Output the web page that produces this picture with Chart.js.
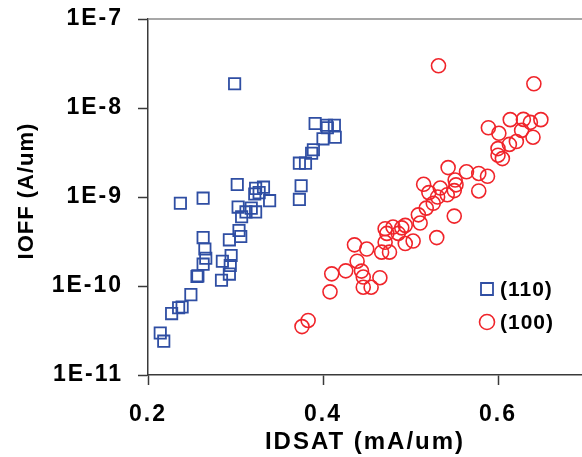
<!DOCTYPE html>
<html><head><meta charset="utf-8">
<script src="https://cdn.jsdelivr.net/npm/chart.js@4/dist/chart.umd.min.js"></script>
<style>
html,body{margin:0;padding:0;background:#fff;overflow:hidden;}
canvas{display:block;}
</style></head><body>
<canvas id="c" width="582" height="457"></canvas>
<script>
const seriesNames = ['(110)', '(100)'];

const idsat110 = [0.299,0.391,0.404,0.413,0.405,0.414,0.400,0.389,0.387,0.373,0.380,0.375,0.373,0.302,0.323,0.332,0.327,0.322,0.339,0.263,0.237,0.303,0.312,0.323,0.307,0.304,0.263,0.293,0.306,0.265,0.266,0.295,0.285,0.294,0.293,0.284,0.263,0.256,0.257,0.249,0.239,0.235,0.227,0.214,0.218,0.318];
const ioff110  = [1.87e-8,6.7e-9,6.4e-9,6.4e-9,6.0e-9,4.7e-9,4.5e-9,3.4e-9,3.1e-9,2.4e-9,2.4e-9,1.34e-9,9.4e-10,1.38e-9,1.25e-9,1.29e-9,1.12e-9,1.08e-9,9.1e-10,9.7e-10,8.5e-10,7.7e-10,6.8e-10,6.8e-10,6.0e-10,4.2e-10,3.5e-10,3.3e-10,3.6e-10,2.6e-10,2.05e-10,2.2e-10,1.9e-10,1.7e-10,1.36e-10,1.16e-10,1.76e-10,1.28e-10,1.30e-10,8.0e-11,5.8e-11,5.7e-11,4.9e-11,2.96e-11,2.4e-11,7.5e-10];

const idsat100 = [0.532,0.641,0.589,0.601,0.614,0.629,0.637,0.649,0.627,0.640,0.621,0.613,0.600,0.605,0.600,0.543,0.564,0.578,0.588,0.578,0.515,0.521,0.534,0.551,0.552,0.550,0.542,0.531,0.526,0.518,0.509,0.511,0.494,0.490,0.486,0.480,0.471,0.473,0.550,0.530,0.503,0.494,0.471,0.436,0.450,0.467,0.476,0.439,0.426,0.410,0.444,0.446,0.465,0.446,0.455,0.408,0.383,0.376];
const ioff100  = [2.98e-8,1.87e-8,6.0e-9,5.2e-9,7.4e-9,7.45e-9,6.9e-9,7.4e-9,5.6e-9,4.7e-9,4.2e-9,3.9e-9,3.5e-9,2.7e-9,2.95e-9,2.14e-9,1.92e-9,1.84e-9,1.71e-9,1.17e-9,1.39e-9,1.12e-9,1.26e-9,1.55e-9,1.37e-9,1.18e-9,1.06e-9,1.0e-9,8.5e-10,7.5e-10,6.3e-10,5.1e-10,4.8e-10,4.5e-10,3.9e-10,4.6e-10,4.4e-10,3.9e-10,6.1e-10,3.5e-10,3.2e-10,3.0e-10,3.1e-10,2.9e-10,2.6e-10,2.4e-10,2.4e-10,1.9e-10,1.48e-10,1.37e-10,1.47e-10,1.26e-10,1.24e-10,9.7e-11,9.7e-11,8.6e-11,4.1e-11,3.5e-11];

const xTickValues = [0.2, 0.4, 0.6];
const xTickLabels = ['0.2', '0.4', '0.6'];
const yTickValues = [1e-11, 1e-10, 1e-9, 1e-8, 1e-7];
const yTickLabels = ['1E-11', '1E-10', '1E-9', '1E-8', '1E-7'];
const xTitle = 'IDSAT (mA/um)';
const yTitle = 'IOFF (A/um)';

const FONT = "'Liberation Sans', Arial, sans-serif";
const BLUE = '#2f4ea3';
const RED = '#f0242a';
const AXIS = '#3a3a3a';

const toPoints = (xs, ys) => xs.map((x, i) => ({x: x, y: ys[i]}));

const spacingPlugin = {
  id: 'spacing',
  beforeUpdate(chart) { chart.ctx.letterSpacing = '2px'; },
  beforeDraw(chart) { chart.ctx.letterSpacing = '2px'; }
};

const framePlugin = {
  id: 'frame',
  beforeDatasetsDraw(chart) {
    const {ctx, chartArea} = chart;
    ctx.save();
    ctx.strokeStyle = '#8a8a8a';
    ctx.lineWidth = 1.5;
    ctx.beginPath();
    ctx.moveTo(chartArea.left, chartArea.top);
    ctx.lineTo(chartArea.right, chartArea.top);
    ctx.stroke();
    // y axis title
    ctx.fillStyle = '#000';
    ctx.letterSpacing = '1px';
    ctx.font = 'bold 22px ' + FONT;
    ctx.textAlign = 'center';
    ctx.textBaseline = 'middle';
    ctx.translate(27, chartArea.top + 172);
    ctx.rotate(-Math.PI / 2);
    ctx.fillText(yTitle, 0, 0);
    ctx.restore();
  }
};

const legendPlugin = {
  id: 'cornerLegend',
  afterDatasetsDraw(chart) {
    const {ctx, chartArea} = chart;
    ctx.save();
    ctx.letterSpacing = '1px';
    chart.data.datasets.forEach((ds, i) => {
      const cx = chartArea.right - 95;
      const cy = chartArea.top + 270 + i * 33;
      ctx.strokeStyle = ds.borderColor;
      ctx.lineWidth = ds.borderWidth;
      ctx.beginPath();
      if (ds.pointStyle === 'rect') {
        const h = 6;
        ctx.rect(cx - h, cy - h, 2 * h, 2 * h);
      } else {
        ctx.arc(cx, cy, 7.5, 0, Math.PI * 2);
      }
      ctx.stroke();
      ctx.fillStyle = '#000';
      ctx.font = 'bold 21px ' + FONT;
      ctx.textAlign = 'left';
      ctx.textBaseline = 'middle';
      ctx.fillText(ds.label, cx + 13, cy + 1);
    });
    ctx.restore();
  }
};

new Chart(document.getElementById('c'), {
  type: 'scatter',
  data: {
    datasets: [
      {label: seriesNames[0], data: toPoints(idsat110, ioff110), pointStyle: 'rect', pointRadius: 8, pointHoverRadius: 8,
       borderColor: BLUE, backgroundColor: 'rgba(0,0,0,0)', borderWidth: 1.8, showLine: false},
      {label: seriesNames[1], data: toPoints(idsat100, ioff100), pointStyle: 'circle', pointRadius: 7, pointHoverRadius: 7,
       borderColor: RED, backgroundColor: 'rgba(0,0,0,0)', borderWidth: 1.6, showLine: false}
    ]
  },
  options: {
    responsive: false,
    animation: false,
    devicePixelRatio: 1,
    layout: {autoPadding: false, padding: {top: 19, right: 0, left: 0, bottom: 0}},
    plugins: {legend: {display: false}, tooltip: {enabled: false}},
    scales: {
      x: {
        type: 'linear', min: 0.2, max: 0.696,
        afterBuildTicks: s => { s.ticks = xTickValues.map(v => ({value: v})); },
        afterFit: s => { s.height = 82; s.paddingLeft = 0; s.paddingRight = 0; },
        ticks: {callback: (v, i) => xTickLabels[i], color: '#000', padding: 16,
                font: {family: FONT, size: 23, weight: 'bold'}, maxRotation: 0},
        grid: {drawOnChartArea: false, tickLength: 10, color: AXIS, tickWidth: 1.5},
        border: {color: AXIS, width: 1.5},
        title: {display: true, text: xTitle, color: '#000', padding: {top: 0, bottom: 0},
                font: {family: FONT, size: 24, weight: 'bold'}}
      },
      y: {
        type: 'logarithmic', min: 1e-11, max: 1e-7,
        afterBuildTicks: s => { s.ticks = yTickValues.map(v => ({value: v})); },
        afterFit: s => { s.width = 148; s.paddingTop = 0; s.paddingBottom = 0; },
        ticks: {callback: (v, i) => yTickLabels[i], color: '#000', padding: 15,
                font: {family: FONT, size: 23, weight: 'bold'}},
        grid: {drawOnChartArea: false, tickLength: 10, color: AXIS, tickWidth: 1.5},
        border: {color: AXIS, width: 1.5}
      }
    }
  },
  plugins: [spacingPlugin, framePlugin, legendPlugin]
});
</script>
</body></html>
